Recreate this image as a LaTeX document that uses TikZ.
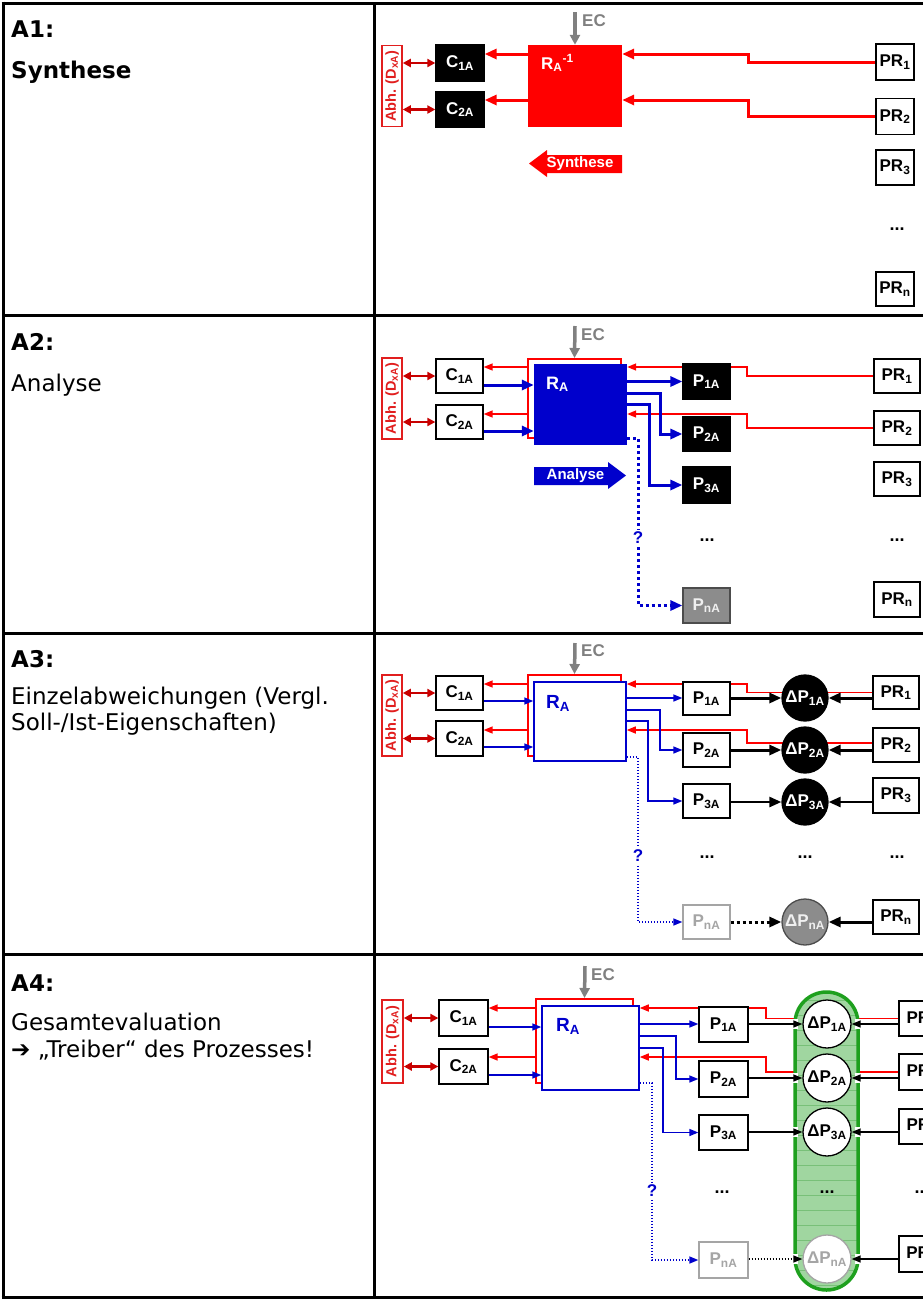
\documentclass[tikz,border=0pt]{standalone}
\usepackage{fontspec}
\setmainfont{Liberation Sans}
\newfontfamily\leftfont{DejaVu Sans}
\usetikzlibrary{arrows.meta}
\pgfdeclarelayer{bg}
\pgfsetlayers{bg,main}
\definecolor{myred}{RGB}{255,0,0}
\definecolor{dred}{RGB}{200,0,0}
\definecolor{abhred}{RGB}{225,30,30}
\definecolor{myblue}{RGB}{0,0,204}
\definecolor{ecgray}{RGB}{128,128,128}
\definecolor{pgray}{RGB}{140,140,140}
\definecolor{lgray}{RGB}{165,165,165}
\definecolor{gborder}{RGB}{30,160,30}
\definecolor{gfill}{RGB}{160,214,160}
\definecolor{gline}{RGB}{120,192,120}
\tikzset{
  tbl/.style={line width=3pt},
  lt/.style={anchor=base west, inner sep=0pt, font=\leftfont\fontsize{23}{23}\selectfont},
  ltb/.style={anchor=base west, inner sep=0pt, font=\leftfont\bfseries\fontsize{23}{23}\selectfont},
  bx/.style={draw=black, line width=1.3pt, fill=white, inner sep=0pt, minimum width=47pt, minimum height=35pt, font=\bfseries\fontsize{17}{17}\selectfont},
  bxk/.style={bx, fill=black, text=white},
  bxgf/.style={bx, fill=pgray, draw=black!70, text=white!88!gray},
  bxgo/.style={bx, draw=lgray, text=lgray},
  abh/.style={draw=abhred, line width=1.5pt, fill=white, rotate=90, inner sep=0pt, minimum width=81pt, minimum height=20pt, text=abhred, font=\bfseries\fontsize{14.5}{14.5}\selectfont},
  dbl/.style={draw=dred, line width=2.5pt, {Triangle[length=8pt,width=8pt]}-{Triangle[length=8pt,width=8pt]}},
  ecarr/.style={draw=ecgray, line width=3.5pt, -{Triangle[length=10pt,width=10pt]}},
  eclab/.style={anchor=base west, inner sep=0pt, text=ecgray, font=\bfseries\fontsize{17}{17}\selectfont},
  rlab/.style={anchor=base west, inner sep=0pt, font=\bfseries\fontsize{17}{17}\selectfont},
  rk/.style={draw=myred, line width=3pt, -{Triangle[length=12pt,width=10pt]}},
  rn/.style={draw=myred, line width=1.5pt, -{Triangle[length=9pt,width=7pt]}},
  bk/.style={draw=myblue, line width=3pt, -{Triangle[length=12pt,width=10pt]}},
  bkd/.style={bk, dash pattern=on 3pt off 3pt},
  bn/.style={draw=myblue, line width=1.5pt, -{Triangle[length=9pt,width=7pt]}},
  bnd/.style={bn, dash pattern=on 1.5pt off 1.5pt},
  kk/.style={draw=black, line width=3pt, -{Triangle[length=12pt,width=10pt]}},
  kkd/.style={kk, dash pattern=on 3pt off 3pt},
  kn/.style={draw=black, line width=1.5pt, -{Triangle[length=9pt,width=7pt]}},
  knd/.style={kn, dash pattern=on 1.5pt off 1.5pt},
  rframe/.style={draw=myred, line width=2pt, inner sep=0pt},
  dots/.style={inner sep=0pt, font=\bfseries\fontsize{18}{18}\selectfont},
  qm/.style={fill=white, text=myblue, inner sep=2pt, font=\bfseries\fontsize{17}{17}\selectfont},
  blab/.style={text=white, inner sep=0pt, font=\bfseries\fontsize{15}{15}\selectfont},
  dpk/.style={circle, draw=black, line width=1.3pt, fill=black, text=white, minimum size=46pt, inner sep=0pt, font=\bfseries\fontsize{17}{17}\selectfont},
  dpg/.style={dpk, fill=pgray, draw=black!70, text=white!88!gray},
  dpw/.style={dpk, fill=white, text=black, minimum size=48pt},
  dpwg/.style={dpw, draw=lgray, text=lgray}
}
\begin{document}
\begin{tikzpicture}[x=1pt,y=-1pt]
\useasboundingbox (0,0) rectangle (923,1299);
% ---------------- table
\draw[tbl] (1.5,3) -- (930,3);
\draw[tbl] (1.5,1297) -- (930,1297);
\draw[tbl] (3,1.5) -- (3,1298.5);
\draw[tbl] (374,3) -- (374,1297);
\foreach \yy in {315,633,954} \draw[tbl] (3,\yy) -- (930,\yy);
% ---------------- left column
\node[ltb] (a1) at (11,37) {A1:};
\node[ltb] (a1t) at (11,78) {Synthese};
\node[ltb] (a2) at (11,350) {A2:};
\node[lt] (a2t) at (11,391) {Analyse};
\node[ltb] (a3) at (11,667) {A3:};
\node[lt] (a3t) at (11,704) {Einzelabweichungen (Vergl.};
\node[lt] (a3u) at (11,730) {Soll-/Ist-Eigenschaften)};
\node[ltb] (a4) at (11,991) {A4:};
\node[lt] (a4t) at (11,1030) {Gesamtevaluation};
\node[lt] (a4u) at (11,1057) {➔ „Treiber“ des Prozesses!};
% ================= A1
\node[abh] (abh1) at (392,86) {Abh. (D\textsubscript{xA})};
\node[bxk, minimum width=48, minimum height=36] (c11) at (460,63) {C\textsubscript{1A}};
\node[bxk, minimum width=48, minimum height=35] (c12) at (460,109.5) {C\textsubscript{2A}};
\node[fill=myred, minimum width=94, minimum height=82, inner sep=0pt] (r1) at (575,86) {};
\node[rlab, text=white] (r1t) at (541,69) {R\textsubscript{A}\textsuperscript{-1}};
\coordinate (ec1) at (575,12);
\draw[ecarr] (ec1) -- (r1.north);
\node[eclab] (ec1t) at (582,26) {EC};
\draw[dbl] (abh1.south |- c11) -- (c11.west);
\draw[dbl] (abh1.south |- c12) -- (c12.west);
\node[bx, minimum width=38, minimum height=36] (pr11) at (895,62) {PR\textsubscript{1}};
\node[bx, minimum width=38, minimum height=36] (pr12) at (895,116.5) {PR\textsubscript{2}};
\node[bx, minimum width=38, minimum height=35] (pr13) at (895,167.5) {PR\textsubscript{3}};
\node[dots] (d11) at (897,229) {...};
\node[bx, minimum width=38, minimum height=34] (pr1n) at (895,289) {PR\textsubscript{n}};
\begin{pgfonlayer}{bg}
\draw[rk] (pr11.west) -| (748,54) -- (r1.east |- 0,54);
\draw[rk] (pr12.west) -| (748,100) -- (r1.east |- 0,100);
\end{pgfonlayer}
\draw[rk] (r1.west |- 0,54) -- (c11.east |- 0,54);
\draw[rk] (r1.west |- 0,100) -- (c12.east |- 0,100);
\fill[myred] (529,163.5) -- (547,150) -- (547,155) -- (622,155) -- (622,173) -- (547,173) -- (547,177) -- cycle;
\node[blab] (syn) at (580,164) {Synthese};
% ================= A2
\node[abh] (abh2) at (392,398.5) {Abh. (D\textsubscript{xA})};
\node[bx, minimum height=34] (c21) at (459.5,376) {C\textsubscript{1A}};
\node[bx, minimum height=34] (c22) at (459.5,422) {C\textsubscript{2A}};
\node[rframe, minimum width=93, minimum height=79] (rf2) at (574.5,398.5) {};
\node[fill=myblue, minimum width=93, minimum height=81, inner sep=0pt] (r2) at (580.5,404.5) {};
\node[rlab, text=white, font=\bfseries\fontsize{18}{18}\selectfont] (r2t) at (546,389) {R\textsubscript{A}};
\coordinate (ec2) at (575,326);
\draw[ecarr] (ec2) -- (rf2.north);
\node[eclab] (ec2t) at (581,340) {EC};
\draw[dbl] (abh2.south |- c21) -- (c21.west);
\draw[dbl] (abh2.south |- c22) -- (c22.west);
\draw[rn] (rf2.west |- 0,367) -- (c21.east |- 0,367);
\draw[rn] (rf2.west |- 0,414) -- (c22.east |- 0,414);
\draw[bk] (c21.east |- 0,385) -- (r2.west |- 0,385);
\draw[bk] (c22.east |- 0,431) -- (r2.west |- 0,431);
\node[bxk] (p21) at (706.5,381.5) {P\textsubscript{1A}};
\node[bxk, minimum height=34] (p22) at (706.5,434) {P\textsubscript{2A}};
\node[bxk, minimum height=36] (p23) at (706.5,485) {P\textsubscript{3A}};
\node[bxgf] (p2n) at (706.5,605.5) {P\textsubscript{nA}};
\node[bx, minimum width=46, minimum height=34] (pr21) at (897,376) {PR\textsubscript{1}};
\node[bx, minimum width=46, minimum height=34] (pr22) at (897,428) {PR\textsubscript{2}};
\node[bx, minimum width=46, minimum height=34] (pr23) at (897,479) {PR\textsubscript{3}};
\node[bx, minimum width=46, minimum height=35] (pr2n) at (897,599.5) {PR\textsubscript{n}};
\node[dots] (d21) at (707,540) {...};
\node[dots] (d22) at (897,540) {...};
\begin{pgfonlayer}{bg}
\draw[rn] (pr21.west) -| (747,367) -- (r2.east |- 0,367);
\draw[rn] (pr22.west) -| (747,414) -- (r2.east |- 0,414);
\end{pgfonlayer}
\draw[bk] (r2.east |- p21) -- (p21.west);
\draw[bk] (r2.east |- 0,393) -- (660,393) |- (p22.west);
\draw[bk] (r2.east |- 0,404) -- (649,404) |- (p23.west);
\draw[bkd] (r2.east |- 0,438) -- (638,438) |- (p2n.west);
\node[qm] (q2) at (638,538) {?};
\fill[myblue] (534,467) -- (608,467) -- (608,462) -- (626,475.5) -- (608,489) -- (608,485) -- (534,485) -- cycle;
\node[blab] (ana) at (575.5,476) {Analyse};
% ================= A3
\node[abh] (abh3) at (392,715.5) {Abh. (D\textsubscript{xA})};
\node[bx, minimum height=34] (c31) at (459.5,693) {C\textsubscript{1A}};
\node[bx] (c32) at (459.5,738.5) {C\textsubscript{2A}};
\node[rframe, minimum width=93, minimum height=81] (rf3) at (574.5,715.5) {};
\node[draw=myblue, line width=1.5pt, fill=white, minimum width=92, minimum height=79, inner sep=0pt] (r3) at (580,721.5) {};
\node[rlab, text=myblue, font=\bfseries\fontsize{19}{19}\selectfont] (r3t) at (546,708) {R\textsubscript{A}};
\coordinate (ec3) at (575,643);
\draw[ecarr] (ec3) -- (rf3.north);
\node[eclab] (ec3t) at (581,656) {EC};
\draw[dbl] (abh3.south |- c31) -- (c31.west);
\draw[dbl] (abh3.south |- c32) -- (c32.west);
\draw[rn] (rf3.west |- 0,684) -- (c31.east |- 0,684);
\draw[rn] (rf3.west |- 0,730) -- (c32.east |- 0,730);
\draw[bn] (c31.east |- 0,701) -- (r3.west |- 0,701);
\draw[bn] (c32.east |- 0,747) -- (r3.west |- 0,747);
\node[bx, minimum height=33] (p31) at (706.5,698.5) {P\textsubscript{1A}};
\node[bx, minimum height=34] (p32) at (706.5,750) {P\textsubscript{2A}};
\node[bx, minimum height=34] (p33) at (706.5,801) {P\textsubscript{3A}};
\node[bxgo, minimum height=34] (p3n) at (706.5,922) {P\textsubscript{nA}};
\node[dpk] (dp31) at (805,698) {ΔP\textsubscript{1A}};
\node[dpk] (dp32) at (805,750) {ΔP\textsubscript{2A}};
\node[dpk] (dp33) at (805,802) {ΔP\textsubscript{3A}};
\node[dpg] (dp3n) at (805,922) {ΔP\textsubscript{nA}};
\node[bx, minimum width=46, minimum height=33] (pr31) at (896,692.5) {PR\textsubscript{1}};
\node[bx, minimum width=46, minimum height=34] (pr32) at (896,745) {PR\textsubscript{2}};
\node[bx, minimum width=46, minimum height=35] (pr33) at (896,795.5) {PR\textsubscript{3}};
\node[bx, minimum width=46, minimum height=34] (pr3n) at (896,917) {PR\textsubscript{n}};
\node[dots] (d31) at (707,857) {...};
\node[dots] (d32) at (805,857) {...};
\node[dots] (d33) at (897,857) {...};
\begin{pgfonlayer}{bg}
\draw[rn] (pr31.west) -| (747,684) -- (r3.east |- 0,684);
\draw[rn] (pr32.west |- 0,743) -| (747,730) -- (r3.east |- 0,730);
\end{pgfonlayer}
\draw[bn] (r3.east |- 0,698) -- (p31.west |- 0,698);
\draw[bn] (r3.east |- 0,710) -- (660,710) |- (p32.west);
\draw[bn] (r3.east |- 0,721) -- (648,721) |- (p33.west);
\draw[bnd] (r3.east |- 0,757) -- (638,757) |- (p3n.west);
\node[qm] (q3) at (638,856) {?};
\draw[kk] (p31.east |- dp31) -- (dp31.west);
\draw[kk] (p32.east |- dp32) -- (dp32.west);
\draw[kk, line width=2.5pt] (p33.east |- dp33) -- (dp33.west);
\draw[kkd] (p3n.east) -- (dp3n.west);
\draw[kk] (pr31.west |- dp31) -- (dp31.east);
\draw[kk] (pr32.west |- dp32) -- (dp32.east);
\draw[kk, line width=2.5pt] (pr33.west |- dp33) -- (dp33.east);
\draw[kk] (pr3n.west |- dp3n) -- (dp3n.east);
% ================= A4
\node[abh, minimum width=83, minimum height=21] (abh4) at (392.5,1041.5) {Abh. (D\textsubscript{xA})};
\node[bx, minimum width=49, minimum height=36] (c41) at (463.5,1018) {C\textsubscript{1A}};
\node[bx, minimum width=49, minimum height=35] (c42) at (463.5,1066.5) {C\textsubscript{2A}};
\node[rframe, minimum width=97, minimum height=84] (rf4) at (584.5,1041) {};
\node[draw=myblue, line width=1.5pt, fill=white, minimum width=97, minimum height=84, inner sep=0pt] (r4) at (590.5,1048) {};
\node[rlab, text=myblue, font=\bfseries\fontsize{19}{19}\selectfont] (r4t) at (556,1031) {R\textsubscript{A}};
\coordinate (ec4) at (585,966);
\draw[ecarr] (ec4) -- (rf4.north);
\node[eclab] (ec4t) at (591,980) {EC};
\draw[dbl] (abh4.south |- c41) -- (c41.west);
\draw[dbl] (abh4.south |- c42) -- (c42.west);
\draw[rn] (rf4.west |- 0,1008) -- (c41.east |- 0,1008);
\draw[rn] (rf4.west |- 0,1057) -- (c42.east |- 0,1057);
\draw[bn] (c41.east |- 0,1027) -- (r4.west |- 0,1027);
\draw[bn] (c42.east |- 0,1075) -- (r4.west |- 0,1075);
% capsule
\begin{scope}
\clip[rounded corners=31.5pt] (795,992) rectangle (858,1290);
\fill[gfill] (795,992) rectangle (858,1290);
\foreach \yy in {1000,1015,...,1290} \draw[gline, line width=0.8pt] (795,\yy) -- (858,\yy);
\end{scope}
\draw[gborder, line width=3.5pt, rounded corners=31.5pt] (795,992) rectangle (858,1290);
\foreach \yy in {1024,1078,1132,1259} {
  \fill[white] (792,\yy-5) rectangle (798,\yy+5);
  \fill[white] (855,\yy-5) rectangle (861,\yy+5);
}
\node[bx, minimum width=49, minimum height=35] (p41) at (723.5,1024.5) {P\textsubscript{1A}};
\node[bx, minimum width=49, minimum height=36] (p42) at (723.5,1079) {P\textsubscript{2A}};
\node[bx, minimum width=49, minimum height=35] (p43) at (723.5,1132.5) {P\textsubscript{3A}};
\node[bxgo, minimum width=49, minimum height=36] (p4n) at (723.5,1260) {P\textsubscript{nA}};
\node[dpw] (dp41) at (827,1024) {ΔP\textsubscript{1A}};
\node[dpw] (dp42) at (827,1078) {ΔP\textsubscript{2A}};
\node[dpw] (dp43) at (827,1132) {ΔP\textsubscript{3A}};
\node[dpwg] (dp4n) at (827,1259) {ΔP\textsubscript{nA}};
\node[bx, minimum width=46, minimum height=35] (pr41) at (922,1018.5) {PR\textsubscript{1}};
\node[bx, minimum width=46, minimum height=36] (pr42) at (922,1072) {PR\textsubscript{2}};
\node[bx, minimum width=46, minimum height=35] (pr43) at (922,1126.5) {PR\textsubscript{3}};
\node[bx, minimum width=46, minimum height=36] (pr4n) at (922,1254) {PR\textsubscript{n}};
\node[dots] (d41) at (722,1192) {...};
\node[dots] (d42) at (827,1192) {...};
\node[dots] (d43) at (922,1192) {...};
\begin{pgfonlayer}{bg}
\draw[rn] (pr41.west) -| (766,1008) -- (r4.east |- 0,1008);
\draw[rn] (pr42.west) -| (766,1057) -- (r4.east |- 0,1057);
\end{pgfonlayer}
\draw[bn] (r4.east |- 0,1024) -- (p41.west |- 0,1024);
\draw[bn] (r4.east |- 0,1036) -- (676,1036) |- (p42.west);
\draw[bn] (r4.east |- 0,1048) -- (663,1048) |- (p43.west);
\draw[bnd] (r4.east |- 0,1083) -- (652,1083) |- (p4n.west);
\node[qm] (q4) at (652,1191) {?};
\draw[kn] (p41.east |- dp41) -- (dp41.west);
\draw[kn] (p42.east |- dp42) -- (dp42.west);
\draw[kn] (p43.east |- dp43) -- (dp43.west);
\draw[knd] (p4n.east |- dp4n) -- (dp4n.west);
\draw[kn] (pr41.west |- dp41) -- (dp41.east);
\draw[kn] (pr42.west |- dp42) -- (dp42.east);
\draw[kn] (pr43.west |- dp43) -- (dp43.east);
\draw[kn] (pr4n.west |- dp4n) -- (dp4n.east);
\end{tikzpicture}
\end{document}
